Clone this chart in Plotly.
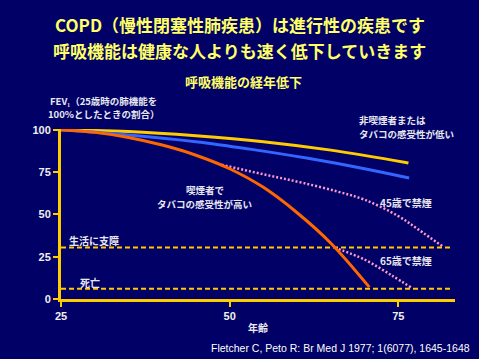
import plotly.graph_objects as go

# ---- data ----
age_nonsmoker = [25, 35, 45, 55, 65, 76.5]
fev_nonsmoker = [100, 99, 96.5, 93, 88, 80.4]

age_smoker_low = [25, 35, 45, 53, 61.4, 70, 76.6]
fev_smoker_low = [100, 97, 93, 88.6, 83.3, 77, 71.5]

age_smoker_high = [25, 30, 35, 40, 45, 50, 55, 60, 65, 70.7]
fev_smoker_high = [100, 98.5, 95.5, 91, 85, 77, 66, 51, 33, 7]

age_quit45 = [48.8, 53, 57, 61, 66, 70, 75, 78, 81.6]
fev_quit45 = [79.4, 75.5, 72, 68.5, 63.5, 58.7, 49, 41, 31]

age_quit65 = [65.6, 70, 74, 77]
fev_quit65 = [30.3, 23.3, 14, 6.5]

threshold_names = ["生活に支障", "死亡"]
threshold_values = [30.5, 6.1]
threshold_span = [25, 82.9]

x_ticks = [25, 50, 75]
y_ticks = [0, 25, 50, 75, 100]

BG = "#000066"
YEL = "#FFCC00"
WHITE = "#FFFFFF"
LT = "#E8E8F0"
JP = "Noto Sans CJK JP"

fig = go.Figure()

for v in threshold_values:
    fig.add_trace(go.Scatter(x=threshold_span, y=[v, v], mode="lines",
                             line=dict(color=YEL, width=2, dash="5px,3px"),
                             hoverinfo="skip", showlegend=False))

fig.add_trace(go.Scatter(x=age_nonsmoker, y=fev_nonsmoker, mode="lines",
                         line=dict(color="#FFCC00", width=3, shape="spline"), showlegend=False))
fig.add_trace(go.Scatter(x=age_smoker_low, y=fev_smoker_low, mode="lines",
                         line=dict(color="#3366FF", width=3, shape="spline"), showlegend=False))
fig.add_trace(go.Scatter(x=age_quit45, y=fev_quit45, mode="lines",
                         line=dict(color="#FF99CC", width=2.5, dash="2px,2px", shape="spline"), showlegend=False))
fig.add_trace(go.Scatter(x=age_quit65, y=fev_quit65, mode="lines",
                         line=dict(color="#FF99CC", width=2.5, dash="2px,2px", shape="spline"), showlegend=False))
fig.add_trace(go.Scatter(x=age_smoker_high, y=fev_smoker_high, mode="lines",
                         line=dict(color="#FF6600", width=3, shape="spline"), showlegend=False))

ann = []
def A(text, x, y, size=10, color=LT, xanchor="center", align="center", family=JP, bold=True, ref="data"):
    t = f"<b>{text}</b>" if bold else text
    xr, yr = ("x", "y") if ref == "data" else ("paper", "paper")
    ann.append(dict(text=t, x=x, y=y, xref=xr, yref=yr, showarrow=False,
                    xanchor=xanchor, yanchor="middle", align=align,
                    font=dict(family=family, size=size, color=color)))

TY = "#FFFF66"
A("COPD（慢性閉塞性肺疾患）は進行性の疾患です", 0.454, 1.613, size=17, color=TY, ref="paper")
A("呼吸機能は健康な人よりも速く低下していきます", 0.454, 1.461, size=17, color=TY, ref="paper")
A("呼吸機能の経年低下", 0.462, 1.28, size=13, color=TY, ref="paper")
A("FEV₁（25歳時の肺機能を", 0.107, 1.1665, size=9.5, ref="paper")
A("100%としたときの割合）", 0.107, 1.09, size=9.5, ref="paper")

A("非喫煙者または", 0.751, 1.0518, size=9.5, xanchor="left", align="left", ref="paper")
A("タバコの感受性が低い", 0.751, 0.9694, size=9.5, xanchor="left", align="left", ref="paper")
A("喫煙者で", 46.3, 64.3, size=9.5)
A("タバコの感受性が高い", 46.3, 56.0, size=9.5)
A("45歳で禁煙", 76.1, 57.1, size=10)
A("65歳で禁煙", 76.1, 22.6, size=10)
A(threshold_names[0], 29.9, 34.6, size=10)
A(threshold_names[1], 29.3, 9.8, size=10)
A("年齢", 0.5, -0.169, size=10, ref="paper")
A("Fletcher C, Peto R: Br Med J 1977; 1(6077), 1645-1648", 1.043, -0.286, size=10.5,
  color=WHITE, xanchor="right", family="Liberation Sans", bold=False, ref="paper")

fig.update_layout(
    width=479, height=359,
    margin=dict(l=61, r=24, t=129, b=60),
    paper_bgcolor=BG, plot_bgcolor=BG,
    annotations=ann,
    xaxis=dict(range=[25, 83.4], tickvals=x_ticks, ticktext=[f"<b>{v}</b>" for v in x_ticks],
               showgrid=False, zeroline=False, showline=True, linecolor=YEL, linewidth=3,
               ticks="outside", ticklen=5, tickwidth=2, tickcolor=YEL,
               tickfont=dict(family="Liberation Sans", size=11, color="#F0F0F0")),
    yaxis=dict(range=[0, 100.5], tickvals=y_ticks, ticktext=[f"<b>{v}</b>" for v in y_ticks],
               showgrid=False, zeroline=False, showline=True, linecolor=YEL, linewidth=3,
               ticks="outside", ticklen=5, tickwidth=2, tickcolor=YEL,
               tickfont=dict(family="Liberation Sans", size=11, color="#F0F0F0")),
)

fig.write_html("out.html", config={"displayModeBar": False},
               post_script="document.body.style.margin='0';document.body.style.background='#000066';")
